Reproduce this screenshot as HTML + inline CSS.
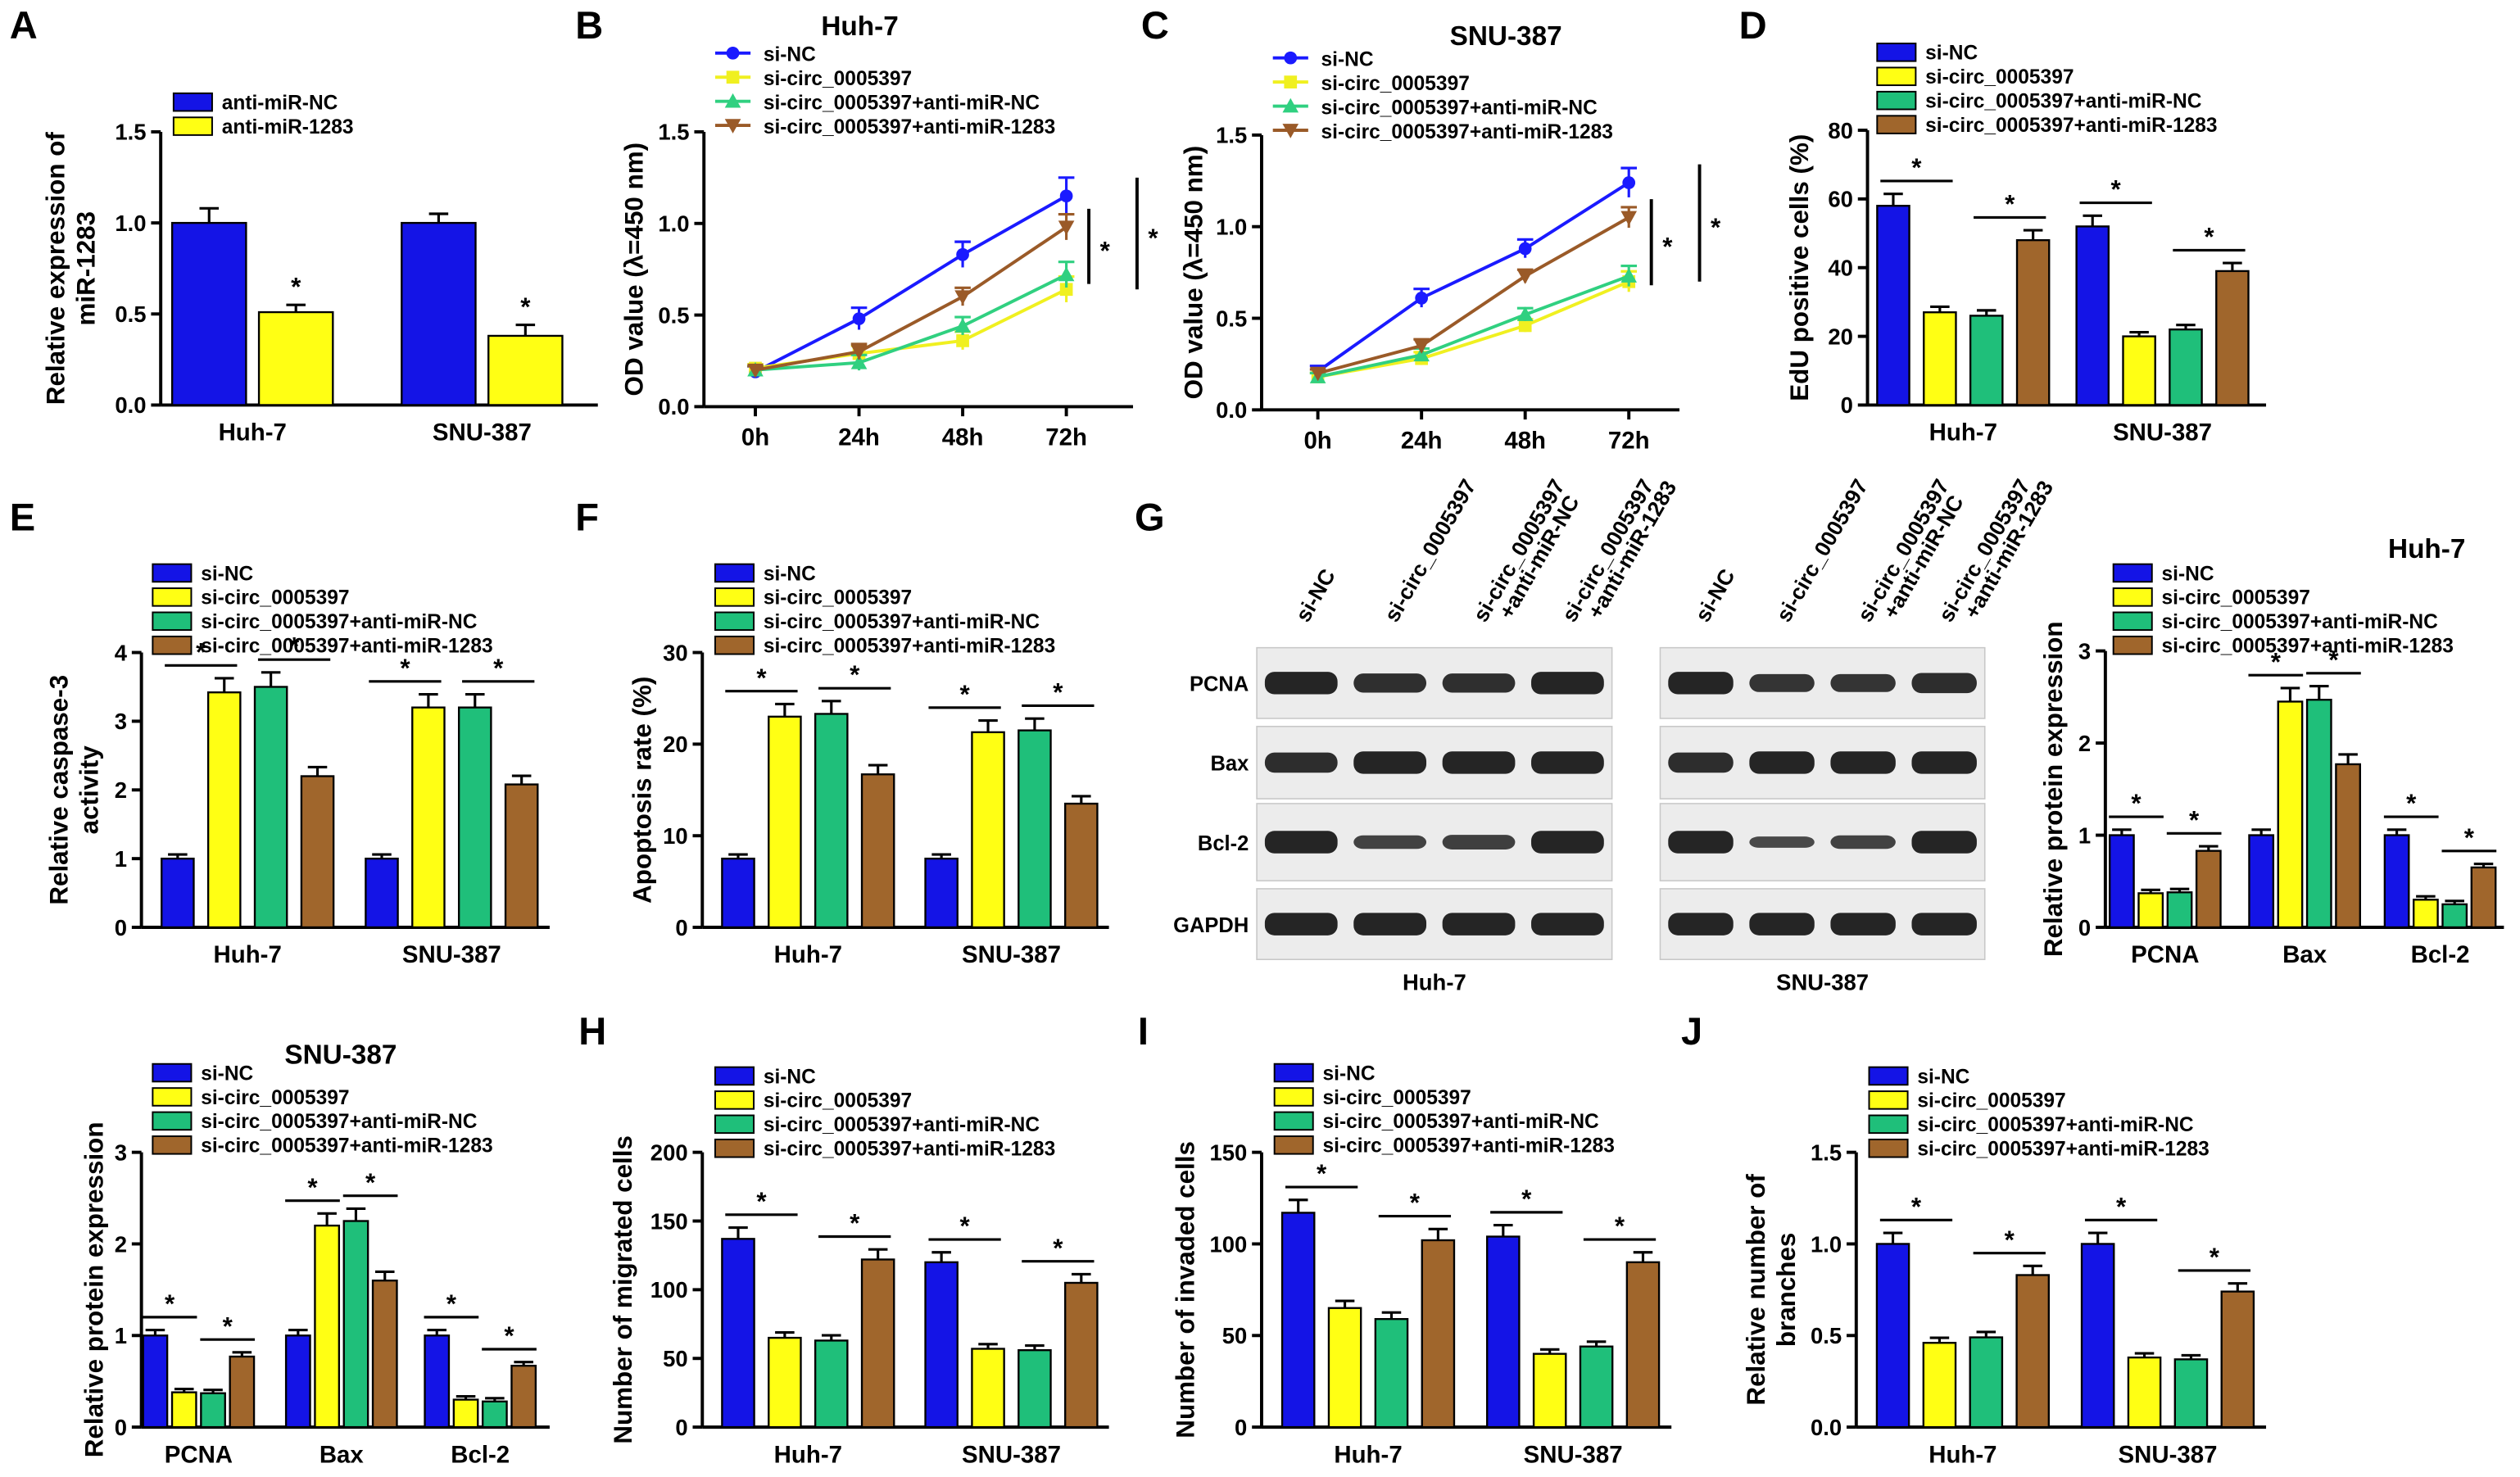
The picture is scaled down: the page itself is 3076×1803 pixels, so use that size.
<!DOCTYPE html>
<html><head><meta charset="utf-8">
<style>
html,body{margin:0;padding:0;background:#fff;}
svg{display:block;font-family:"Liberation Sans",Arial,sans-serif;font-weight:bold;}
</style></head>
<body>
<svg id="fig" width="3076" height="1803" viewBox="0 0 1568 919" xmlns="http://www.w3.org/2000/svg"></svg>
<script>
// ---------- data ----------
const groups2 = ["Huh-7","SNU-387"];
const proteins = ["PCNA","Bax","Bcl-2"];
const seriesNames4 = ["si-NC","si-circ_0005397","si-circ_0005397+anti-miR-NC","si-circ_0005397+anti-miR-1283"];
const seriesNamesA = ["anti-miR-NC","anti-miR-1283"];
const timeLabels = ["0h","24h","48h","72h"];

const aVals = [[1.0,1.0],[0.51,0.38]];
const aErr = [[0.08,0.05],[0.04,0.06]];

const bNC=[0.19,0.48,0.83,1.15], bCirc=[0.21,0.29,0.36,0.64], bANC=[0.20,0.24,0.44,0.72], bA1283=[0.20,0.30,0.60,0.98];
const bErr=[0.03,0.06,0.07,0.1];
const cNC=[0.21,0.61,0.88,1.24], cCirc=[0.18,0.28,0.46,0.70], cANC=[0.18,0.30,0.52,0.73], cA1283=[0.20,0.35,0.73,1.05];
const cErr=[0.03,0.05,0.05,0.08];

const dVals=[[58,52],[27,20],[26,22],[48,39]];
const eVals=[[1.0,1.0],[3.42,3.2],[3.5,3.2],[2.2,2.08]];
const fVals=[[7.5,7.5],[23,21.3],[23.3,21.5],[16.7,13.5]];
const gHuhVals=[[1.0,1.0,1.0],[0.37,2.45,0.30],[0.38,2.47,0.25],[0.83,1.77,0.65]];
const gSnuVals=[[1.0,1.0,1.0],[0.38,2.2,0.30],[0.37,2.25,0.28],[0.77,1.6,0.67]];
const hVals=[[137,120],[65,57],[63,56],[122,105]];
const iVals=[[117,104],[65,40],[59,44],[102,90]];
const jVals=[[1.0,1.0],[0.46,0.38],[0.49,0.37],[0.83,0.74]];

const colors4=["#1414e6","#ffff14","#1fbf7a","#a0662c"];
// ---------- helpers ----------
const svg=document.getElementById('fig');
const NS="http://www.w3.org/2000/svg";
function mk(tag,attrs,parent,text){
  const e=document.createElementNS(NS,tag);
  for(const k in attrs)e.setAttribute(k,attrs[k]);
  if(text!==undefined)e.textContent=text;
  (parent||svg).appendChild(e);return e;
}
function txt(x,y,s,size,anchor,name,parent,rot){
  const a={x:x,y:y,'font-size':size,'text-anchor':anchor||'middle'};
  if(rot)a.transform=`rotate(${rot} ${x} ${y})`;
  const t=mk('text',a,parent,s);
  
  
  return t;
}
function panelLetter(x,y,l){txt(x,y,l,24,'start','panel-letter-'+l.toLowerCase());}

function yAxis(g,o){
  const sy=v=>o.y0-(v/o.ymax)*(o.y0-o.y1);
  const ax=mk('line',{x1:o.x0,y1:o.y0,x2:o.x0,y2:sy(o.ticks[o.ticks.length-1]),stroke:'#000','stroke-width':2},g);
  
  o.ticks.forEach((t,i)=>{
    mk('line',{x1:o.x0-6,y1:sy(t),x2:o.x0,y2:sy(t),stroke:'#000','stroke-width':2},g);
    txt(o.x0-9,sy(t)+5,o.tickLabels[i],14,'end','y-tick-label',g);
  });
  const xa=mk('line',{x1:o.x0,y1:o.y0,x2:o.x1,y2:o.y0,stroke:'#000','stroke-width':2},g);
  
  o.ytitle.forEach((s,i)=>{
    const lx=o.titleX+i*19;
    txt(lx,(o.y0+o.y1)/2,s,16,'middle','y-axis-title',g,-90);
  });
  return sy;
}
function legendBars(g,x,y,names,cols,step){
  names.forEach((n,i)=>{
    const r=mk('rect',{x:x,y:y+i*step-9,width:24,height:11,fill:cols[i],stroke:'#000','stroke-width':1},g);
    
    txt(x+30,y+i*step+1,n,12.5,'start','legend-entry',g);
  });
}
function barChart(o){
  const g=mk('g',{});
  
  const sy=yAxis(g,o);
  const nS=o.vals.length;
  const w=o.x1-o.x0;
  o.cats.forEach((c,ci)=>{
    const cx=o.x0+w*o.centers[ci];
    const pitch=o.bw+o.gap;
    const start=cx-(nS*pitch-o.gap)/2;
    const tops=[];
    for(let s=0;s<nS;s++){
      const v=o.vals[s][ci];
      const bx=start+s*pitch;
      const err=o.err?o.err[s][ci]:Math.max(v*0.06,o.ymax*0.012);
      mk('line',{x1:bx+o.bw/2,y1:sy(v),x2:bx+o.bw/2,y2:sy(v+err),stroke:'#000','stroke-width':1.6},g);
      mk('line',{x1:bx+o.bw/2-6,y1:sy(v+err),x2:bx+o.bw/2+6,y2:sy(v+err),stroke:'#000','stroke-width':1.6},g);
      const r=mk('rect',{x:bx,y:sy(v),width:o.bw,height:o.y0-sy(v),fill:o.colors[s],stroke:'#000','stroke-width':1.2},g);
      
      
      tops.push({x:bx+o.bw/2,y:sy(v+err)});
    }
    const pairs=nS===2?[[1,1]]:[[0,1],[2,3]];
    pairs.forEach(p=>{
      if(nS===2){txt(tops[1].x,tops[1].y-6,'*',16,'middle','significance-star',g);return;}
      const yy=Math.min(tops[p[0]].y,tops[p[1]].y)-8;
      mk('line',{x1:tops[p[0]].x-8,y1:yy,x2:tops[p[1]].x+8,y2:yy,stroke:'#000','stroke-width':1.6},g);
      txt((tops[p[0]].x+tops[p[1]].x)/2,yy-3,'*',16,'middle','significance-star',g);
    });
    txt(cx,o.y0+22,c,15,'middle','x-tick-label',g);
  });
  if(o.title)txt(o.title[0],o.title[1],o.title[2],17,'middle','chart-title',g);
  legendBars(g,o.legX,o.legY,o.legNames,o.colors,o.legStep||15);
}
function lineChart(o){
  const g=mk('g',{});
  
  const sy=yAxis(g,o);
  const sx=i=>o.x0+o.xpad+i*o.xstep;
  timeLabels.forEach((t,i)=>{
    mk('line',{x1:sx(i),y1:o.y0,x2:sx(i),y2:o.y0+6,stroke:'#000','stroke-width':2},g);
    txt(sx(i),o.y0+24,t,15,'middle','x-tick-label',g);
  });
  const cols=["#1a1aff","#f0f020","#30d080","#9a5a28"];
  const markers=['circle','square','tri','tridown'];
  o.series.forEach((s,si)=>{
    const pts=s.map((v,i)=>sx(i)+','+sy(v)).join(' ');
    const pl=mk('polyline',{points:pts,fill:'none',stroke:cols[si],'stroke-width':2},g);
    
    s.forEach((v,i)=>{
      const e=o.err[i]*(si===0?1:0.7);
      mk('line',{x1:sx(i),y1:sy(v-e),x2:sx(i),y2:sy(v+e),stroke:cols[si],'stroke-width':1.6},g);
      mk('line',{x1:sx(i)-5,y1:sy(v+e),x2:sx(i)+5,y2:sy(v+e),stroke:cols[si],'stroke-width':1.6},g);
      drawMarker(g,markers[si],sx(i),sy(v),cols[si]);
    });
  });
  const xl=sx(3)+14;
  mk('line',{x1:xl,y1:sy(o.series[3][3]+0.1),x2:xl,y2:sy(o.series[2][3]-0.05),stroke:'#000','stroke-width':2},g);
  txt(xl+10,(sy(o.series[3][3]+0.1)+sy(o.series[2][3]-0.05))/2+8,'*',16,'middle','significance-star',g);
  mk('line',{x1:xl+30,y1:sy(o.series[0][3]+0.1),x2:xl+30,y2:sy(o.series[1][3]-0.0),stroke:'#000','stroke-width':2},g);
  txt(xl+40,(sy(o.series[0][3]+0.1)+sy(o.series[1][3]))/2+8,'*',16,'middle','significance-star',g);
  txt(o.title[0],o.title[1],o.title[2],17,'middle','chart-title',g);
  seriesNames4.forEach((n,i)=>{
    const ly=o.legY+i*15;
    mk('line',{x1:o.legX,y1:ly-4,x2:o.legX+22,y2:ly-4,stroke:cols[i],'stroke-width':2},g);
    drawMarker(g,markers[i],o.legX+11,ly-4,cols[i]);
    txt(o.legX+30,ly+1,n,12.5,'start','legend-entry',g);
  });
}
function drawMarker(g,t,x,y,c){
  let m;
  if(t==='circle')m=mk('circle',{cx:x,cy:y,r:4,fill:c},g);
  else if(t==='square')m=mk('rect',{x:x-4,y:y-4,width:8,height:8,fill:c},g);
  else if(t==='tri')m=mk('polygon',{points:`${x},${y-5} ${x-5},${y+4} ${x+5},${y+4}`,fill:c},g);
  else m=mk('polygon',{points:`${x},${y+5} ${x-5},${y-4} ${x+5},${y-4}`,fill:c},g);
  
}
// ---------- panels ----------
panelLetter(6,24,'A');panelLetter(358,24,'B');panelLetter(710,24,'C');panelLetter(1082,24,'D');
panelLetter(6,330,'E');panelLetter(358,330,'F');panelLetter(706,330,'G');
panelLetter(360,650,'H');panelLetter(708,650,'I');panelLetter(1046,650,'J');

barChart({name:'panel-a-chart',x0:100,x1:372,y0:252,y1:82,ymax:1.5,ticks:[0,0.5,1,1.5],tickLabels:['0.0','0.5','1.0','1.5'],
  ytitle:['Relative expression of','miR-1283'],titleX:40,cats:groups2,centers:[0.21,0.735],bw:46,gap:8,vals:aVals,err:aErr,
  colors:["#1414e6","#ffff14"],legNames:seriesNamesA,legX:108,legY:67,legStep:15});
lineChart({name:'panel-b-chart',x0:438,x1:705,y0:253,y1:82,ymax:1.5,ticks:[0,0.5,1,1.5],tickLabels:['0.0','0.5','1.0','1.5'],
  ytitle:['OD value (λ=450 nm)'],titleX:400,xpad:32,xstep:64.5,series:[bNC,bCirc,bANC,bA1283],err:bErr,
  title:[535,22,'Huh-7'],legX:445,legY:37});
lineChart({name:'panel-c-chart',x0:785,x1:1045,y0:255,y1:84,ymax:1.5,ticks:[0,0.5,1,1.5],tickLabels:['0.0','0.5','1.0','1.5'],
  ytitle:['OD value (λ=450 nm)'],titleX:748,xpad:35,xstep:64.5,series:[cNC,cCirc,cANC,cA1283],err:cErr,
  title:[937,28,'SNU-387'],legX:792,legY:40});
barChart({name:'panel-d-chart',x0:1162,x1:1410,y0:252,y1:81,ymax:80,ticks:[0,20,40,60,80],tickLabels:['0','20','40','60','80'],
  ytitle:['EdU positive cells (%)'],titleX:1125,cats:groups2,centers:[0.24,0.74],bw:20,gap:9,vals:dVals,
  colors:colors4,legNames:seriesNames4,legX:1168,legY:36,legStep:15});
barChart({name:'panel-e-chart',x0:88,x1:342,y0:577,y1:406,ymax:4,ticks:[0,1,2,3,4],tickLabels:['0','1','2','3','4'],
  ytitle:['Relative caspase-3','activity'],titleX:42,cats:groups2,centers:[0.26,0.76],bw:20,gap:9,vals:eVals,
  colors:colors4,legNames:seriesNames4,legX:95,legY:360,legStep:15});
barChart({name:'panel-f-chart',x0:437,x1:690,y0:577,y1:406,ymax:30,ticks:[0,10,20,30],tickLabels:['0','10','20','30'],
  ytitle:['Apoptosis rate (%)'],titleX:405,cats:groups2,centers:[0.26,0.76],bw:20,gap:9,vals:fVals,
  colors:colors4,legNames:seriesNames4,legX:445,legY:360,legStep:15});
barChart({name:'panel-g-huh7-chart',x0:1310,x1:1558,y0:577,y1:405,ymax:3,ticks:[0,1,2,3],tickLabels:['0','1','2','3'],
  ytitle:['Relative protein expression'],titleX:1283,cats:proteins,centers:[0.15,0.5,0.84],bw:15,gap:3,vals:gHuhVals,
  colors:colors4,legNames:seriesNames4,legX:1315,legY:360,legStep:15,title:[1510,347,'Huh-7']});
barChart({name:'panel-g-snu387-chart',x0:88,x1:342,y0:888,y1:717,ymax:3,ticks:[0,1,2,3],tickLabels:['0','1','2','3'],
  ytitle:['Relative protein expression'],titleX:64,cats:proteins,centers:[0.14,0.49,0.83],bw:15,gap:3,vals:gSnuVals,
  colors:colors4,legNames:seriesNames4,legX:95,legY:671,legStep:15,title:[212,662,'SNU-387']});
barChart({name:'panel-h-chart',x0:437,x1:690,y0:888,y1:717,ymax:200,ticks:[0,50,100,150,200],tickLabels:['0','50','100','150','200'],
  ytitle:['Number of migrated cells'],titleX:393,cats:groups2,centers:[0.26,0.76],bw:20,gap:9,vals:hVals,
  colors:colors4,legNames:seriesNames4,legX:445,legY:673,legStep:15});
barChart({name:'panel-i-chart',x0:785,x1:1040,y0:888,y1:717,ymax:150,ticks:[0,50,100,150],tickLabels:['0','50','100','150'],
  ytitle:['Number of invaded cells'],titleX:743,cats:groups2,centers:[0.26,0.76],bw:20,gap:9,vals:iVals,
  colors:colors4,legNames:seriesNames4,legX:793,legY:671,legStep:15});
barChart({name:'panel-j-chart',x0:1155,x1:1410,y0:888,y1:717,ymax:1.5,ticks:[0,0.5,1,1.5],tickLabels:['0.0','0.5','1.0','1.5'],
  ytitle:['Relative number of','branches'],titleX:1098,cats:groups2,centers:[0.26,0.76],bw:20,gap:9,vals:jVals,
  colors:colors4,legNames:seriesNames4,legX:1163,legY:673,legStep:15});

// ---------- western blots ----------
const blotRows=["PCNA","Bax","Bcl-2","GAPDH"];
const blotRowY=[[403,447],[452,497],[500,548],[553,597]];
const huhBand=[[1,0.85,0.85,1],[0.9,1,1,1],[1,0.6,0.65,1],[1,1,1,1]];
const snuBand=[[1,0.8,0.8,0.9],[0.9,1,1,1],[1,0.5,0.6,1],[1,1,1,1]];
const laneLabels=["si-NC","si-circ_0005397","si-circ_0005397\n+anti-miR-NC","si-circ_0005397\n+anti-miR-1283"];
function blot(x0,x1,bands,name,cap){
  const g=mk('g',{});
  const lw=(x1-x0)/4;
  blotRowY.forEach((r,ri)=>{
    mk('rect',{x:x0,y:r[0],width:x1-x0,height:r[1]-r[0],fill:'#ececec',stroke:'#c8c8c8','stroke-width':0.8},g);
    for(let l=0;l<4;l++){
      const k=bands[ri][l];
      const b=mk('rect',{x:x0+l*lw+5,y:(r[0]+r[1])/2-7*k,width:lw-10,height:14*k,rx:6,fill:'#1a1a1a','fill-opacity':0.6+0.35*k},g);
      
    }
  });
  laneLabels.forEach((s,l)=>{
    const cx=x0+l*lw+lw/2+4, by=388;
    const lines=s.split('\n');
    lines.forEach((ln,li)=>txt(cx+li*16,by-li*2,ln,13.5,'start','lane-label',g,-60));
  });
  txt((x0+x1)/2,616,cap,14,'middle','blot-caption',g);
}
blot(782,1003,huhBand,'blot-huh7','Huh-7');
blot(1033,1235,snuBand,'blot-snu387','SNU-387');
blotRows.forEach((r,i)=>txt(777,(blotRowY[i][0]+blotRowY[i][1])/2+5,r,13,'end','blot-row-label'));
</script>
</body></html>
